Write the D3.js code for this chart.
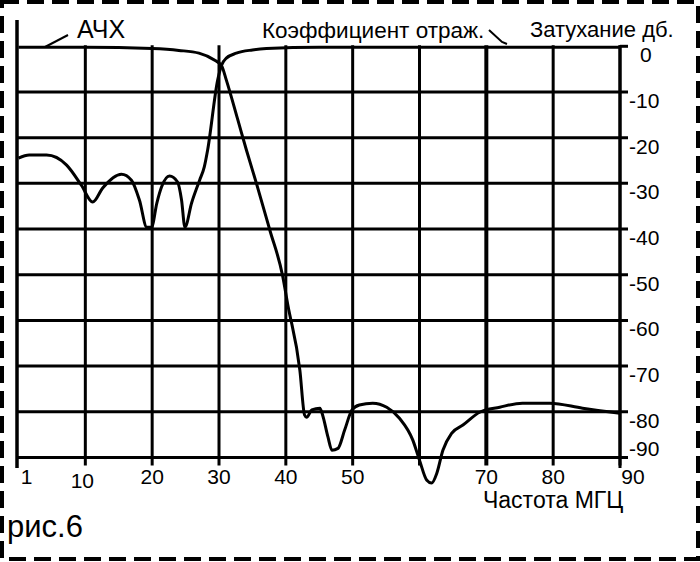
<!DOCTYPE html>
<html><head><meta charset="utf-8">
<script src="https://cdn.jsdelivr.net/npm/d3@7"></script>
<style>
html,body{margin:0;padding:0;background:#fff;}
svg text{font-family:"Liberation Sans",Arial,sans-serif;fill:#000;}
</style></head>
<body><svg id="c" width="700" height="562"></svg>
<script>
// ---- data ----
const freqTicks = [0,10,20,30,40,50,60,70,80,90];
const freqLabels = ["1","10","20","30","40","50","","70","80","90"];
const dbTicks = [0,-10,-20,-30,-40,-50,-60,-70,-80,-90];
const dbLabels = ["0","-10","-20","-30","-40","-50","-60","-70","-80","-90"];

// АЧХ (frequency response)
const achFreq = [0,10,20,24,27,29.3,30.4,31.1,32.8,34.1,35.6,37.6,39.5,40.3,42.1,42.8,43.1,43.9,45.1,45.5,46.3,46.9,47.8,48.8,49.9,51,53,55.1,57,59,60,61.1,61.8,62.6,63.5,64.8,66.5,69,72,75.4,79.5,84.4,90];
const achDb   = [-0.2,-0.2,-0.5,-0.9,-1.5,-3,-4.3,-7.4,-16,-22.7,-30,-40.2,-50.1,-56.6,-70.9,-80.7,-81.2,-79.6,-79.2,-80.7,-85.5,-88.4,-88,-84,-79.6,-78.5,-78.1,-79,-81.4,-86.2,-90.6,-95,-95.6,-93.4,-88.4,-84.7,-82.9,-80.1,-79,-78.1,-78.1,-79.2,-80.3];

// Коэффициент отражения (reflection coefficient)
const reflFreq = [0,1.6,4.2,7.2,9.4,11.1,12.6,15.4,16.9,18.1,19.2,19.9,20.7,21.4,22.6,23.8,24.4,24.9,25.9,27.1,27.8,28.3,29.8,30.4,31.1,32.6,35,37.1,45,90];
const reflDb   = [-24.5,-23.8,-23.8,-26,-30.4,-34.1,-31,-28,-29.3,-33.7,-39.6,-39.6,-34.3,-30.8,-28.4,-29.7,-33.7,-39.6,-34.3,-29.3,-26.4,-22.7,-7.4,-4.1,-2.6,-1.5,-0.8,-0.5,-0.2,-0.2];

// ---- drawing ----
const svg = d3.select("#c");
const x = d3.scaleLinear().domain([0,90]).range([18.5,620]);
const y = d3.scaleLinear().domain([0,-90]).range([46.3,457.5]);

// dashed frame
svg.append("rect").attr("x",2).attr("y",2).attr("width",696).attr("height",557)
  .attr("fill","none").attr("stroke","#000").attr("stroke-width",4).attr("stroke-dasharray","17 8");

const g = svg.append("g");
const SW = 3;

// horizontal grid lines (-10 .. -80) extending past right axis as ticks
g.selectAll("line.h").data(dbTicks.filter(d=>d<0 && d>-90)).join("line")
  .attr("x1",x(0)-1).attr("x2",x(90)+8)
  .attr("y1",d=>y(d)).attr("y2",d=>y(d))
  .attr("stroke","#000").attr("stroke-width",SW);
// bottom axis (-90)
g.append("line").attr("x1",x(0)-2).attr("x2",x(90)+8).attr("y1",y(-90)).attr("y2",y(-90))
  .attr("stroke","#000").attr("stroke-width",SW);
// zero tick at right
g.append("line").attr("x1",x(90)).attr("x2",x(90)+8).attr("y1",y(0)).attr("y2",y(0))
  .attr("stroke","#000").attr("stroke-width",SW);

// vertical grid lines with ticks below axis
g.selectAll("line.v").data(freqTicks.filter(d=>d>0)).join("line")
  .attr("x1",d=>x(d)).attr("x2",d=>x(d))
  .attr("y1",y(0)-1).attr("y2",y(-90)+8)
  .attr("stroke","#000").attr("stroke-width",d=>d===70?4:SW);
// left axis
g.append("line").attr("x1",x(0)-1.5).attr("x2",x(0)-1.5).attr("y1",20).attr("y2",468)
  .attr("stroke","#000").attr("stroke-width",3.5);
// right axis extension
g.append("line").attr("x1",x(90)).attr("x2",x(90)).attr("y1",y(0)-1).attr("y2",468)
  .attr("stroke","#000").attr("stroke-width",SW);

// curves
const line = d3.line().x(d=>x(d[0])).y(d=>y(d[1])).curve(d3.curveMonotoneX);
const ach = achFreq.map((f,i)=>[f,achDb[i]]);
const refl = reflFreq.map((f,i)=>[f,reflDb[i]]);
g.append("path").attr("d",line(refl)).attr("fill","none").attr("stroke","#000").attr("stroke-width",3).attr("stroke-linejoin","round");
g.append("path").attr("d",line(ach)).attr("fill","none").attr("stroke","#000").attr("stroke-width",3).attr("stroke-linejoin","round");

// x tick labels
g.selectAll("text.xl").data(freqTicks).join("text")
  .attr("x",(d,i)=>x(d) + (i===0?8:(i===freqTicks.length-1?13:(i===1?-3:0))))
  .attr("y",(d,i)=>i===1?488:484)
  .attr("text-anchor","middle").attr("font-size",21)
  .text((d,i)=>freqLabels[i]);

// y tick labels (right side)
g.selectAll("text.yl").data(dbTicks).join("text")
  .attr("x",(d,i)=>i===0?640:629)
  .attr("y",(d,i)=>i===dbTicks.length-1 ? y(d)-2 : y(d)+16)
  .attr("font-size",21)
  .text((d,i)=>dbLabels[i]);

// annotations
svg.append("text").attr("x",77).attr("y",38).attr("font-size",25).text("АЧХ");
svg.append("line").attr("x1",45).attr("y1",47).attr("x2",68).attr("y2",35).attr("stroke","#000").attr("stroke-width",2);
svg.append("text").attr("x",262).attr("y",38).attr("font-size",22.5).text("Коэффициент отраж.");
svg.append("path").attr("d","M489,30 L502,42 L507,44").attr("fill","none").attr("stroke","#000").attr("stroke-width",2);
svg.append("text").attr("x",530).attr("y",37).attr("font-size",22).text("Затухание дб.");
svg.append("text").attr("x",483).attr("y",508).attr("font-size",23).text("Частота МГЦ");
svg.append("text").attr("x",7).attr("y",537).attr("font-size",31).text("рис.6");
</script></body></html>
